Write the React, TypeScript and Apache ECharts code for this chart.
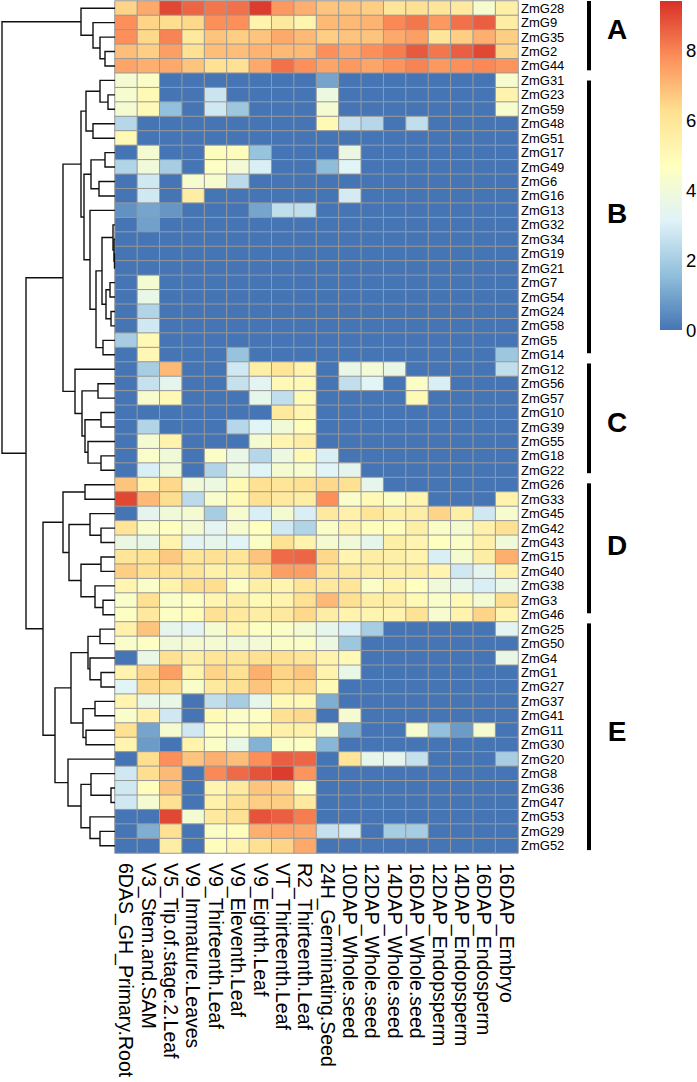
import React, { useEffect, useRef } from "react";
import * as echarts from "echarts";

const columns = [
  "6DAS_GH_Primary.Root", "V3_Stem.and.SAM", "V5_Tip.of.stage.2.Leaf", "V9_Immature.Leaves",
  "V9_Thirteenth.Leaf", "V9_Eleventh.Leaf", "V9_Eighth.Leaf", "VT_Thirteenth.Leaf", "R2_Thirteenth.Leaf",
  "24H_Germinating.Seed", "10DAP_Whole.seed", "12DAP_Whole.seed", "14DAP_Whole.seed", "16DAP_Whole.seed",
  "12DAP_Endopsperm", "14DAP_Endopsperm", "16DAP_Endosperm", "16DAP_Embryo",
];

const genesA = ["ZmG28", "ZmG9", "ZmG35", "ZmG2", "ZmG44"];
const valuesA = [
  [6.5, 7.3, 9.0, 8.5, 8.2, 8.3, 9.2, 7.6, 7.2, 6.8, 6.8, 6.6, 6.0, 6.2, 6.0, 5.8, 4.3, 5.5],
  [7.8, 6.5, 6.3, 6.4, 7.8, 7.8, 5.3, 5.8, 5.2, 7.0, 7.0, 7.1, 7.9, 8.2, 7.6, 8.3, 8.6, 5.6],
  [7.8, 6.4, 8.0, 5.8, 6.8, 6.6, 6.8, 7.3, 7.0, 6.6, 6.8, 6.8, 7.3, 7.5, 6.0, 6.6, 7.2, 6.6],
  [6.9, 6.6, 7.5, 6.2, 6.9, 6.9, 7.1, 7.0, 7.0, 7.8, 7.4, 7.8, 8.1, 8.7, 8.2, 8.6, 9.0, 6.5],
  [7.4, 7.2, 7.3, 6.8, 6.2, 6.2, 7.3, 8.3, 7.8, 7.4, 7.6, 7.4, 7.7, 8.0, 7.6, 7.8, 7.9, 7.7],
];

const genesB = ["ZmG31", "ZmG23", "ZmG59", "ZmG48", "ZmG51", "ZmG17", "ZmG49", "ZmG6", "ZmG16", "ZmG13",
  "ZmG32", "ZmG34", "ZmG19", "ZmG21", "ZmG7", "ZmG54", "ZmG24", "ZmG58", "ZmG5", "ZmG14"];
const valuesB = [
  [4.2, 4.5, 0, 0, 0, 0, 0, 0, 0, 1.0, 0, 0, 0, 0, 0, 0, 0, 4.3],
  [4.3, 5.0, 0, 0, 2.7, 0, 0, 0, 0, 3.8, 0, 0, 0, 0, 0, 0, 0, 5.3],
  [4.2, 5.0, 1.6, 0, 2.8, 1.8, 0, 0, 0, 4.2, 0, 0, 0, 0, 0, 0, 0, 4.3],
  [2.3, 0, 0, 0, 0, 0, 0, 0, 0, 5.0, 2.6, 2.3, 0, 2.5, 0, 0, 0, 0],
  [5.0, 0, 0, 0, 0, 0, 0, 0, 0, 0, 0, 0, 0, 0, 0, 0, 0, 0],
  [0, 4.2, 0, 0, 4.8, 4.8, 1.7, 0, 0, 0, 3.7, 0, 0, 0, 0, 0, 0, 0],
  [2.2, 4.0, 2.0, 0, 4.6, 4.1, 3.0, 0, 0, 1.5, 3.2, 0, 0, 0, 0, 0, 0, 0],
  [0, 2.8, 0, 4.3, 4.3, 2.4, 0, 0, 0, 0, 0, 0, 0, 0, 0, 0, 0, 0],
  [0, 2.8, 0, 5.6, 0, 0, 0, 0, 0, 0, 2.9, 0, 0, 0, 0, 0, 0, 0],
  [0.6, 1.0, 0.7, 0, 0, 0, 1.0, 2.5, 2.5, 0, 0, 0, 0, 0, 0, 0, 0, 0],
  [0, 0.9, 0, 0, 0, 0, 0, 0, 0, 0, 0, 0, 0, 0, 0, 0, 0, 0],
  [0, 0, 0, 0, 0, 0, 0, 0, 0, 0, 0, 0, 0, 0, 0, 0, 0, 0],
  [0, 0, 0, 0, 0, 0, 0, 0, 0, 0, 0, 0, 0, 0, 0, 0, 0, 0],
  [0, 0, 0, 0, 0, 0, 0, 0, 0, 0, 0, 0, 0, 0, 0, 0, 0, 0],
  [0, 4.2, 0, 0, 0, 0, 0, 0, 0, 0, 0, 0, 0, 0, 0, 0, 0, 0],
  [0, 3.6, 0, 0, 0, 0, 0, 0, 0, 0, 0, 0, 0, 0, 0, 0, 0, 0],
  [0, 2.2, 0, 0, 0, 0, 0, 0, 0, 0, 0, 0, 0, 0, 0, 0, 0, 0],
  [0, 2.8, 0, 0, 0, 0, 0, 0, 0, 0, 0, 0, 0, 0, 0, 0, 0, 0],
  [2.0, 5.0, 0, 0, 0, 0, 0, 0, 0, 0, 0, 0, 0, 0, 0, 0, 0, 0],
  [0, 5.1, 0, 0, 0, 1.7, 0, 0, 0, 0, 0, 0, 0, 0, 0, 0, 0, 1.8],
];

const genesC = ["ZmG12", "ZmG56", "ZmG57", "ZmG10", "ZmG39", "ZmG55", "ZmG18", "ZmG22"];
const valuesC = [
  [0, 2.0, 7.0, 0, 0, 2.8, 5.5, 6.0, 5.3, 0, 3.6, 4.1, 3.6, 0, 0, 0, 0, 2.5],
  [0, 2.6, 3.4, 0, 0, 2.6, 3.3, 5.0, 5.0, 0, 2.5, 3.2, 0, 4.5, 3.0, 0, 0, 0],
  [0, 4.3, 5.0, 0, 0, 0, 3.5, 2.5, 5.0, 0, 0, 0, 0, 5.0, 0, 0, 0, 0],
  [0, 0, 0, 0, 0, 0, 0, 5.8, 5.2, 0, 0, 0, 0, 0, 0, 0, 0, 0],
  [0, 2.2, 0, 0, 0, 2.3, 3.2, 4.0, 4.8, 0, 0, 0, 0, 0, 0, 0, 0, 0],
  [0, 4.2, 5.3, 0, 0, 0, 4.2, 5.2, 5.6, 0, 0, 0, 0, 0, 0, 0, 0, 0],
  [0, 4.4, 4.0, 0, 4.5, 3.6, 2.3, 3.8, 5.0, 3.0, 0, 0, 0, 0, 0, 0, 0, 0],
  [0, 3.0, 4.0, 0, 2.2, 3.8, 3.2, 4.2, 4.3, 3.2, 3.4, 0, 0, 0, 0, 0, 0, 0],
];

const genesD = ["ZmG26", "ZmG33", "ZmG45", "ZmG42", "ZmG43", "ZmG15", "ZmG40", "ZmG38", "ZmG3", "ZmG46"];
const valuesD = [
  [6.8, 5.2, 6.4, 4.0, 3.8, 5.0, 6.2, 6.0, 6.2, 6.4, 6.2, 3.5, 0, 0, 0, 0, 0, 0],
  [9.0, 7.0, 6.3, 2.4, 4.4, 5.0, 6.2, 5.8, 5.6, 7.8, 4.4, 5.0, 4.5, 5.2, 0, 0, 0, 5.3],
  [0, 3.4, 4.0, 4.2, 2.0, 4.3, 3.0, 4.2, 3.0, 5.8, 5.4, 6.0, 5.5, 5.6, 6.5, 5.5, 2.8, 4.3],
  [6.0, 4.4, 4.7, 4.2, 3.3, 4.3, 4.7, 2.8, 2.2, 4.5, 5.2, 4.8, 4.8, 5.5, 4.5, 4.2, 5.4, 6.2],
  [3.7, 3.6, 5.3, 3.3, 3.5, 3.2, 4.5, 6.1, 5.3, 4.2, 4.0, 3.5, 5.5, 5.2, 4.7, 4.5, 5.4, 4.0],
  [6.0, 6.1, 6.7, 6.0, 6.2, 6.0, 6.8, 8.4, 8.5, 6.4, 5.2, 5.6, 5.5, 5.3, 3.0, 4.2, 5.6, 7.2],
  [6.6, 6.2, 6.2, 6.0, 5.4, 5.5, 6.3, 7.5, 7.5, 6.0, 5.8, 5.6, 5.5, 5.6, 5.2, 2.8, 3.4, 5.4],
  [5.2, 4.4, 5.3, 6.3, 6.3, 4.6, 5.5, 5.2, 6.0, 5.8, 6.0, 4.5, 5.3, 4.7, 4.0, 3.5, 3.0, 3.6],
  [4.4, 6.2, 4.4, 4.6, 5.2, 5.5, 5.0, 5.3, 6.2, 7.0, 6.2, 5.6, 5.6, 5.0, 4.4, 5.0, 4.2, 6.3],
  [4.6, 5.8, 4.6, 4.9, 6.2, 5.8, 5.6, 5.8, 6.4, 5.6, 5.3, 5.2, 5.3, 6.1, 4.3, 5.3, 6.5, 5.2],
];

const genesE = ["ZmG25", "ZmG50", "ZmG4", "ZmG1", "ZmG27", "ZmG37", "ZmG41", "ZmG11", "ZmG30", "ZmG20",
  "ZmG8", "ZmG36", "ZmG47", "ZmG53", "ZmG29", "ZmG52"];
const valuesE = [
  [5.4, 6.8, 3.5, 3.3, 4.2, 5.2, 4.6, 4.5, 4.2, 3.5, 3.0, 2.0, 0, 0, 0, 0, 0, 3.3],
  [4.4, 4.6, 4.0, 4.2, 4.2, 4.0, 4.1, 4.5, 4.5, 3.8, 1.8, 0, 0, 0, 0, 0, 0, 0],
  [0, 3.6, 6.2, 5.5, 6.0, 6.0, 6.2, 6.2, 6.0, 5.3, 5.0, 0, 0, 0, 0, 0, 0, 3.6],
  [5.3, 6.5, 7.5, 5.3, 6.5, 6.2, 7.2, 6.5, 6.8, 5.3, 3.6, 0, 0, 0, 0, 0, 0, 0],
  [3.2, 6.4, 6.3, 4.4, 5.8, 6.2, 6.8, 6.3, 6.4, 5.0, 0, 0, 0, 0, 0, 0, 0, 0],
  [5.2, 3.6, 3.6, 0, 2.5, 2.0, 3.5, 5.0, 5.0, 1.2, 0, 0, 0, 0, 0, 0, 0, 0],
  [4.4, 5.4, 2.8, 0, 5.0, 4.5, 4.6, 6.2, 6.4, 0, 4.2, 0, 0, 0, 0, 0, 0, 0],
  [6.2, 1.0, 4.2, 2.8, 4.6, 4.6, 5.0, 5.4, 5.4, 4.3, 1.1, 0, 0, 4.3, 1.6, 0.8, 4.2, 0],
  [5.2, 0.8, 0, 5.3, 4.5, 3.6, 1.3, 4.5, 4.6, 1.4, 0, 0, 0, 0, 0, 0, 0, 0],
  [0, 6.3, 7.8, 6.8, 7.2, 6.9, 7.8, 8.6, 8.5, 0, 6.0, 3.5, 3.4, 2.6, 0, 0, 0, 2.0],
  [2.8, 6.3, 7.0, 0, 7.9, 8.4, 8.8, 9.2, 7.7, 0, 0, 0, 0, 0, 0, 0, 0, 0],
  [2.8, 4.8, 6.8, 0, 5.2, 5.8, 6.8, 6.6, 4.8, 0, 0, 0, 0, 0, 0, 0, 0, 0],
  [2.8, 4.2, 6.2, 0, 5.4, 6.2, 6.6, 6.6, 5.8, 0, 0, 0, 0, 0, 0, 0, 0, 0],
  [0, 0, 9.0, 4.2, 5.8, 6.2, 8.8, 8.6, 8.1, 0, 0, 0, 0, 0, 0, 0, 0, 0],
  [0, 1.2, 6.2, 0, 4.5, 4.8, 7.2, 7.3, 7.3, 2.6, 2.8, 0, 2.0, 2.0, 0, 0, 0, 0],
  [0, 0, 5.6, 0, 4.8, 5.2, 6.2, 6.5, 7.3, 0, 0, 0, 0, 0, 0, 0, 0, 0],
];

// dendrogram: [height, left, right]; leaves are gene names
const tree: any = [113,
  [34, "ZmG28", [22, "ZmG9", [15, "ZmG35", [10, "ZmG2", "ZmG44"]]]],
  [89,
    [52,
      [34,
        [29, [15, "ZmG31", [7, "ZmG23", "ZmG59"]], [22, "ZmG48", "ZmG51"]],
        [31,
          [24, [10, "ZmG17", "ZmG49"], [16, "ZmG6", "ZmG16"]],
          [25, "ZmG13", [19,
            [13, [2, "ZmG32", [1, "ZmG34", [0.5, "ZmG19", "ZmG21"]]], [9, [5, "ZmG7", "ZmG54"], [4, "ZmG24", "ZmG58"]]],
            [12, "ZmG5", "ZmG14"]]]]],
      [40, "ZmG12", [33, [17, "ZmG56", "ZmG57"], [30, [14, "ZmG10", "ZmG39"], [27, "ZmG55", [14, "ZmG18", "ZmG22"]]]]]],
    [72,
      [52, [30, "ZmG26", "ZmG33"], [46, [25, "ZmG45", [14, "ZmG42", "ZmG43"]], [34, [14, "ZmG15", "ZmG40"], [20, "ZmG38", [12, "ZmG3", "ZmG46"]]]]],
      [60,
        [44, [27, [15, "ZmG25", "ZmG50"], [25, "ZmG4", [14, "ZmG1", "ZmG27"]]], [32, [20, "ZmG37", "ZmG41"], [29, "ZmG11", "ZmG30"]]],
        [47, "ZmG20", [34, [24, "ZmG8", [4, "ZmG36", "ZmG47"]], [25, "ZmG53", [15, "ZmG29", "ZmG52"]]]]]]]];

const clusters = [
  { label: "A", from: 0, to: 4.8, labelAt: 2.0 },
  { label: "B", from: 5.5, to: 24.4, labelAt: 14.7 },
  { label: "C", from: 25.1, to: 32.7, labelAt: 29.2 },
  { label: "D", from: 33.4, to: 42.4, labelAt: 37.7 },
  { label: "E", from: 43.1, to: 58.8, labelAt: 50.6 },
];

const palette = ["#4575B4", "#91BFDB", "#E0F3F8", "#FFFFBF", "#FEE090", "#FC8D59", "#D73027"];
const legendTicks = [0, 2, 4, 6, 8];
const vMin = 0;
const vMax = 9.4;

const FONT = "'Liberation Sans', Arial, Helvetica, sans-serif";

export default function App() {
  const ref = useRef<HTMLDivElement>(null);
  useEffect(() => {
    const chart = echarts.init(ref.current!, null, { renderer: "svg" });
    const genes = [...genesA, ...genesB, ...genesC, ...genesD, ...genesE];
    const values = [...valuesA, ...valuesB, ...valuesC, ...valuesD, ...valuesE];
    const data: any[] = [];
    values.forEach((row, r) => row.forEach((v, c) => data.push([c, r, v])));

    const gridTop = 1;
    const gridH = 852;
    const gridL = 115;
    const gridW = 403;
    const rowH = gridH / genes.length;

    // dendrogram segments
    const segs: any[] = [];
    const walk = (node: any): { y: number; h: number } => {
      if (typeof node === "string") return { y: genes.indexOf(node) + 0.5, h: 0 };
      const [h, l, r] = node;
      const a = walk(l);
      const b = walk(r);
      segs.push({ coords: [[a.h, a.y], [h, a.y], [h, b.y], [b.h, b.y]] });
      return { y: (a.y + b.y) / 2, h };
    };
    walk(tree);

    const legX = 660, legTop = 1, legH = 329, legW = 22;
    const legY = (v: number) => legTop + legH - ((v - vMin) / (vMax - vMin)) * legH;

    const graphics: any[] = [
      {
        type: "rect",
        shape: { x: legX, y: legTop, width: legW, height: legH },
        style: {
          fill: new echarts.graphic.LinearGradient(0, 0, 0, 1,
            palette.slice().reverse().map((c, i) => ({ offset: i / (palette.length - 1), color: c }))),
        },
      },
      ...legendTicks.map((t) => ({
        type: "text",
        x: legX + legW + 4,
        y: legY(t),
        style: { text: String(t), fill: "#000", font: `18.5px ${FONT}`, verticalAlign: "middle", textAlign: "left" },
      })),
    ];
    clusters.forEach((cl) => {
      const y1 = gridTop + cl.from * rowH;
      const y2 = gridTop + cl.to * rowH;
      graphics.push({ type: "rect", shape: { x: 587, y: y1, width: 4, height: y2 - y1 }, style: { fill: "#000" } });
      graphics.push({
        type: "text", x: 617, y: gridTop + cl.labelAt * rowH,
        style: { text: cl.label, fill: "#000", font: `bold 28px ${FONT}`, textAlign: "center", verticalAlign: "middle" },
      });
    });

    chart.setOption({
      animation: false,
      backgroundColor: "#fff",
      textStyle: { fontFamily: FONT },
      grid: [
        { left: gridL, top: gridTop, width: gridW, height: gridH },
        { left: 2, top: gridTop, width: gridL - 2, height: gridH },
      ],
      xAxis: [
        {
          type: "category", gridIndex: 0, data: columns, position: "bottom",
          axisLine: { show: false }, axisTick: { show: false }, splitLine: { show: false },
          axisLabel: { rotate: -90, interval: 0, fontSize: 19.5, color: "#000", margin: 10, fontFamily: FONT },
        },
        { type: "value", gridIndex: 1, min: 0, max: 113, inverse: true, show: false },
      ],
      yAxis: [
        {
          type: "category", gridIndex: 0, data: genes, inverse: true, position: "right",
          axisLine: { show: false }, axisTick: { show: false }, splitLine: { show: false },
          axisLabel: { interval: 0, fontSize: 13, color: "#000", margin: 3, fontFamily: FONT },
        },
        { type: "value", gridIndex: 1, min: 0, max: genes.length, inverse: true, show: false },
      ],
      visualMap: {
        type: "continuous", show: false, min: vMin, max: vMax, dimension: 2, seriesIndex: 0,
        inRange: { color: palette },
      },
      series: [
        {
          type: "heatmap", xAxisIndex: 0, yAxisIndex: 0, data,
          itemStyle: { borderColor: "#999999", borderWidth: 1 },
          emphasis: { disabled: true },
        },
        {
          type: "lines", coordinateSystem: "cartesian2d", xAxisIndex: 1, yAxisIndex: 1, polyline: true,
          data: segs, lineStyle: { color: "#111", width: 1.4, opacity: 1 }, silent: true,
        },
      ],
      graphic: graphics,
    });
    return () => chart.dispose();
  }, []);
  return <div ref={ref} style={{ position: "absolute", left: 0, top: 0, width: 697, height: 1082, background: "#fff" }} />;
}
